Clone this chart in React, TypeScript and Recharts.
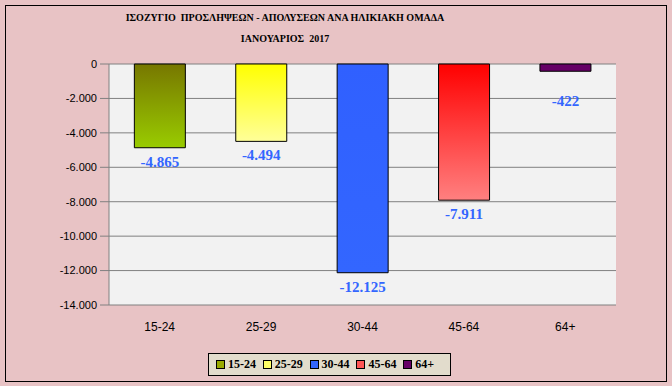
import React from "react";
import {
  BarChart,
  Bar,
  XAxis,
  YAxis,
  CartesianGrid,
  Cell,
  LabelList,
} from "recharts";

const AGE_GROUPS = ["15-24", "25-29", "30-44", "45-64", "64+"];
const BALANCE = [-4865, -4494, -12125, -7911, -422];
const Y_TICKS = [0, -2000, -4000, -6000, -8000, -10000, -12000, -14000];

// gradient top -> bottom for each bar, legend swatch colour
const BAR_FILLS = [
  { top: "#777700", bottom: "#99cc00", swatch: "#99aa00" },
  { top: "#ffff00", bottom: "#ffff99", swatch: "#ffff66" },
  { top: "#3060ff", bottom: "#3366ff", swatch: "#3366ff" },
  { top: "#ff0000", bottom: "#ff8080", swatch: "#ff5555" },
  { top: "#660066", bottom: "#660066", swatch: "#660066" },
];

const TITLE_1 = "ΙΣΟΖΥΓΙΟ  ΠΡΟΣΛΗΨΕΩΝ - ΑΠΟΛΥΣΕΩΝ ΑΝΑ ΗΛΙΚΙΑΚΗ ΟΜΑΔΑ";
const TITLE_2 = "ΙΑΝΟΥΑΡΙΟΣ  2017";

const data = AGE_GROUPS.map((name, i) => ({ name, value: BALANCE[i] }));

const SERIF = "'Liberation Serif', 'Times New Roman', serif";
const SANS = "'Liberation Sans', Arial, sans-serif";

function fmt(v: number): string {
  const s = Math.abs(v)
    .toString()
    .replace(/\B(?=(\d{3})+(?!\d))/g, ".");
  return v < 0 ? "-" + s : s;
}

function ValueLabel(props: any) {
  const { x, y, width, height, value } = props;
  const bottom = Math.max(Number(y), Number(y) + Number(height));
  // small bar label sits lower, as in the source sheet
  const ly = Math.max(bottom + 14, 101);
  return (
    <text
      x={Number(x) + Number(width) / 2}
      y={ly}
      textAnchor="middle"
      dominantBaseline="central"
      fill="#3366ff"
      fontFamily={SERIF}
      fontWeight="bold"
      fontSize={15}
    >
      {fmt(Number(value))}
    </text>
  );
}

function AgeLegend() {
  return (
    <div
      style={{
        position: "absolute",
        left: 208,
        top: 353,
        width: 243,
        display: "flex",
        alignItems: "center",
        background: "#e2dccc",
        border: "1px solid #000",
        height: 23,
        boxSizing: "border-box",
        paddingLeft: 7,
        fontFamily: SERIF,
        fontWeight: "bold",
        fontSize: 12,
      }}
    >
      {AGE_GROUPS.map((g, i) => (
        <div key={g} style={{ display: "flex", alignItems: "center", width: 51 }}>
          <span
            style={{
              display: "inline-block",
              width: 7,
              height: 7,
              border: "1px solid #000",
              background: BAR_FILLS[i].swatch,
              marginRight: 3,
            }}
          />
          <span>{g}</span>
        </div>
      ))}
    </div>
  );
}

export default function App() {
  return (
    <div
      style={{
        position: "absolute",
        left: 0,
        top: 0,
        width: 672,
        height: 386,
        background: "#e8c3c5",
        overflow: "hidden",
      }}
    >
      <div
        style={{
          position: "absolute",
          left: 5,
          top: 5,
          width: 662,
          height: 377,
          border: "1px solid #000",
          boxSizing: "border-box",
        }}
      />
      <div
        style={{
          position: "absolute",
          left: 85,
          width: 400,
          top: 7,
          textAlign: "center",
          fontFamily: SERIF,
          fontWeight: "bold",
          fontSize: 10,
          lineHeight: "21px",
          whiteSpace: "pre",
        }}
      >
        <div>{TITLE_1}</div>
        <div>{TITLE_2}</div>
      </div>
      <BarChart
        width={672}
        height={386}
        data={data}
        margin={{ top: 64, right: 56, left: 49, bottom: 51 }}
        barCategoryGap="25%"
        style={{ position: "absolute", left: 0, top: 0 }}
      >
        <defs>
          {BAR_FILLS.map((f, i) => (
            <linearGradient key={i} id={`barGrad${i}`} x1="0" y1="0" x2="0" y2="1">
              <stop offset="0%" stopColor={f.top} />
              <stop offset="100%" stopColor={f.bottom} />
            </linearGradient>
          ))}
        </defs>
        <CartesianGrid
          vertical={false}
          stroke="#808080"
          fill="#f2f2f2"
          fillOpacity={1}
        />
        <XAxis
          dataKey="name"
          axisLine={false}
          tickLine={false}
          tickMargin={11}
          tick={{ fill: "#000", fontSize: 12, fontFamily: SANS }}
        />
        <YAxis
          width={60}
          domain={[-14000, 0]}
          ticks={Y_TICKS}
          interval={0}
          tickFormatter={fmt}
          axisLine={{ stroke: "#808080" }}
          tickLine={{ stroke: "#808080" }}
          tickSize={9}
          tickMargin={3}
          tick={{ fill: "#000", fontSize: 11, fontFamily: SANS }}
        />
        <Bar dataKey="value" stroke="#000" strokeWidth={1} isAnimationActive={false}>
          {data.map((d, i) => (
            <Cell key={d.name} fill={`url(#barGrad${i})`} />
          ))}
          <LabelList dataKey="value" content={<ValueLabel />} />
        </Bar>
      </BarChart>
      <AgeLegend />
    </div>
  );
}
